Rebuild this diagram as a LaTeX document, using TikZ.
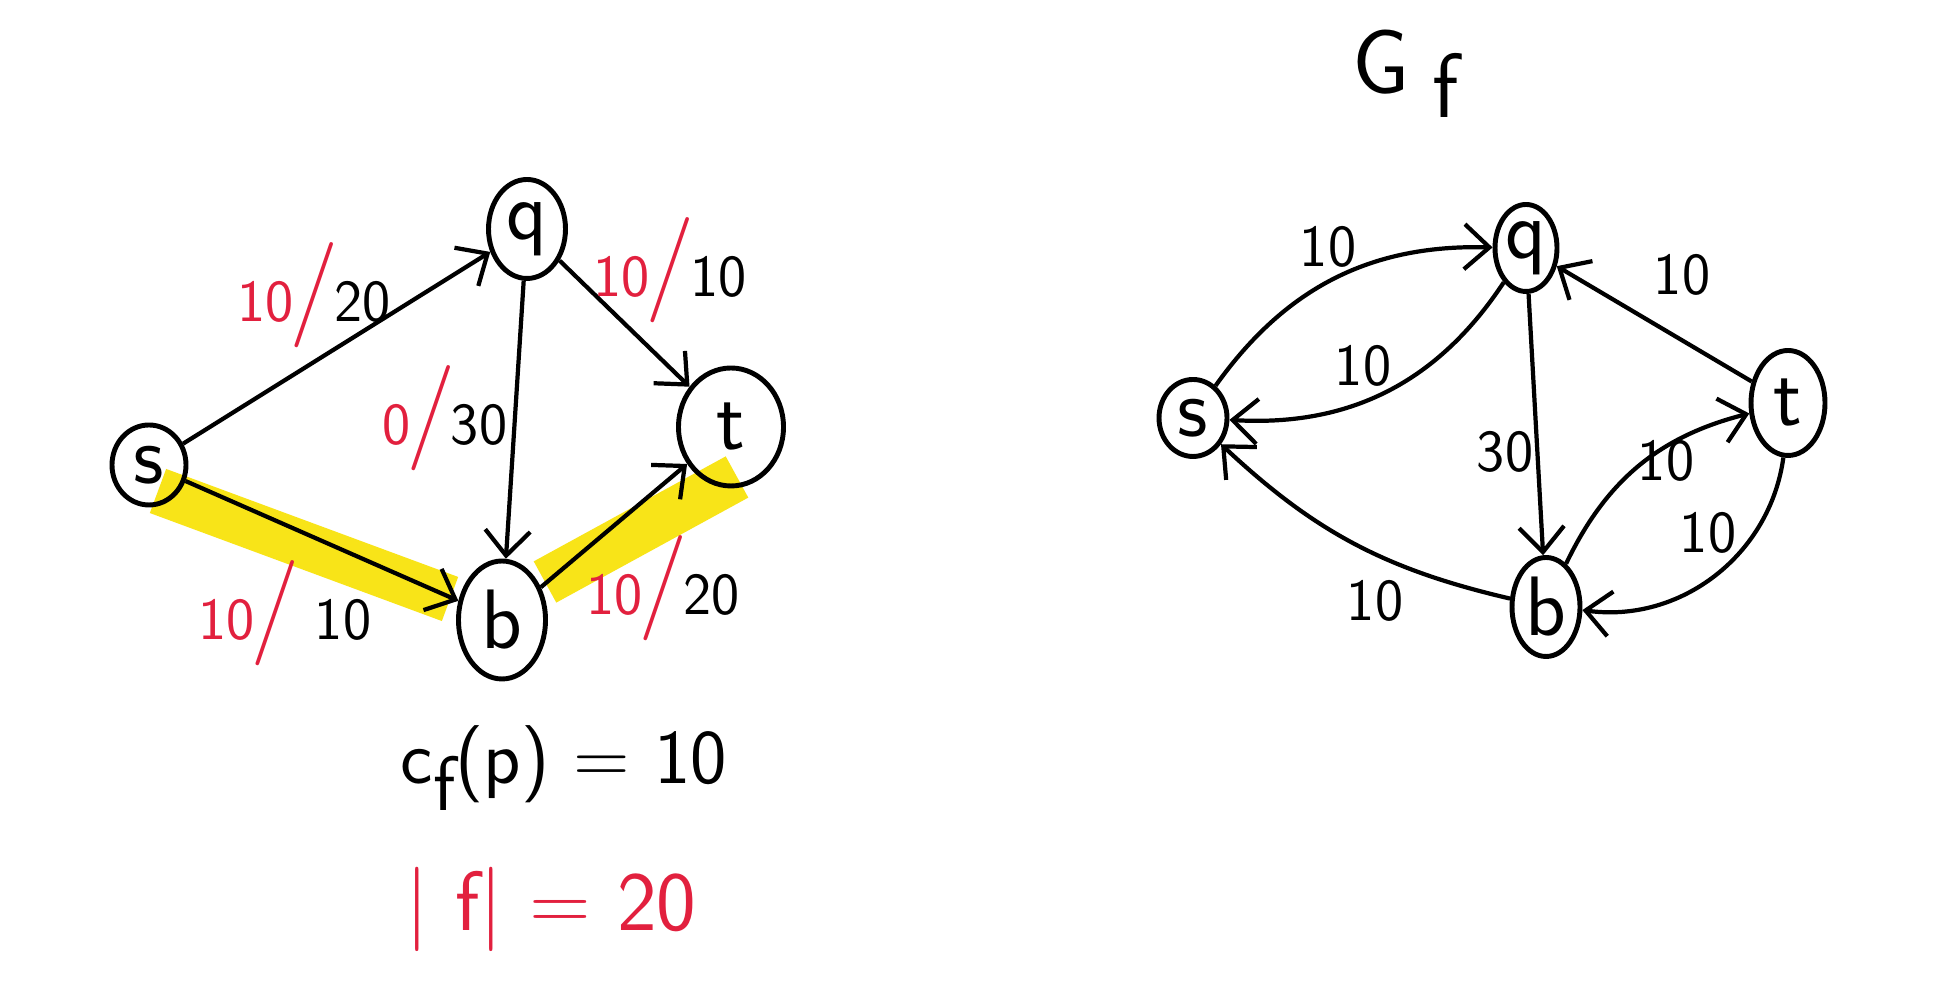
\documentclass[tikz,border=0pt]{standalone}
\usetikzlibrary{shapes.geometric,arrows.meta}
\definecolor{flowred}{RGB}{226,32,62}
\definecolor{marker}{RGB}{248,228,24}
\newcommand{\flowlab}[2]{\textcolor{flowred}{#1\kern-0.08em{\fontsize{30}{30}\selectfont/}}\kern-0.08em#2}
\begin{document}
\begin{tikzpicture}[
  thick,main node/.style={ellipse,draw,line width=1.4pt,inner sep=0pt,font=\sffamily\fontsize{24}{24}\selectfont},
  lab/.style={font=\sffamily\fontsize{17}{20}\selectfont},
  arc/.style={line width=1.2pt,-{Straight Barb[length=2.5mm,width=4.5mm]}},
  hl/.style={marker,line width=0.47cm}]

  \useasboundingbox[fill=white] (0,0) rectangle (19.43,9.91);

  % highlighted path s -> b -> t
  \coordinate (hs) at (1.58,5.00);
  \coordinate (hb1) at (4.50,3.92);
  \coordinate (hb2) at (5.45,4.09);
  \coordinate (ht) at (7.37,5.14);
  \draw[hl] (hs) -- (hb1);
  \draw[hl] (hb2) -- (ht);

  % network with flow
  \node[main node,minimum width=0.74cm,minimum height=0.8cm] (s) at (1.49,5.26) {s};
  \node[main node,minimum width=0.77cm,minimum height=0.99cm] (q) at (5.27,7.62) {q};
  \node[main node,minimum width=1.05cm,minimum height=1.18cm] (t) at (7.31,5.64) {t};
  \node[main node,minimum width=0.87cm,minimum height=1.18cm] (b) at (5.02,3.71) {b};

  \path[arc]
   (s) edge (q)
   (q) edge (t)
   (q) edge (b)
   (s) edge (b)
   (b) edge (t);

  \node[lab] (lsq) at (3.14,6.96) {\flowlab{10}{20}};
  \node[lab] (lqt) at (6.70,7.21) {\flowlab{10}{10}};
  \node[lab] (lqb) at (4.45,5.73) {\flowlab{0}{30}};
  \node[lab] (lsb) at (2.85,3.78) {\flowlab{10}{\,\,10}};
  \node[lab] (lbt) at (6.63,4.03) {\flowlab{10}{20}};

  \node[font=\sffamily\fontsize{22}{26}\selectfont] (cap) at (5.64,2.23) {c\raisebox{-0.8ex}{f}(p) = 10};
  \node[font=\sffamily\fontsize{24}{28}\selectfont,text=flowred] (val) at (5.51,0.82) {| f| = 20};

  % residual network
  \node[font=\sffamily\fontsize{26}{30}\selectfont] (title) at (14.06,9.17) {G\kern0.25em\raisebox{-0.6ex}{f}};

  \node[main node,minimum width=0.68cm,minimum height=0.77cm] (rs) at (11.93,5.73) {s};
  \node[main node,minimum width=0.62cm,minimum height=0.87cm] (rq) at (15.26,7.43) {q};
  \node[main node,minimum width=0.74cm,minimum height=1.05cm] (rt) at (17.88,5.88) {t};
  \node[main node,minimum width=0.68cm,minimum height=0.99cm] (rb) at (15.46,3.84) {b};

  \path[arc]
   (rs) edge[bend left=28] (rq)
   (rq) edge[bend left=30] (rs)
   (rq) edge (rb)
   (rt) edge (rq)
   (rb) edge[bend left=25] (rt)
   (rt) edge[bend left=45] (rb)
   (rb) edge[bend left=15] (rs);

  \node[lab] (rlsq) at (13.28,7.44) {10};
  \node[lab] (rlqs) at (13.63,6.25) {10};
  \node[lab] (rlqb) at (15.05,5.39) {30};
  \node[lab] (rltq) at (16.82,7.16) {10};
  \node[lab] (rlbt) at (16.66,5.30) {10};
  \node[lab] (rltb) at (17.08,4.58) {10};
  \node[lab] (rlbs) at (13.75,3.90) {10};
\end{tikzpicture}
\end{document}
